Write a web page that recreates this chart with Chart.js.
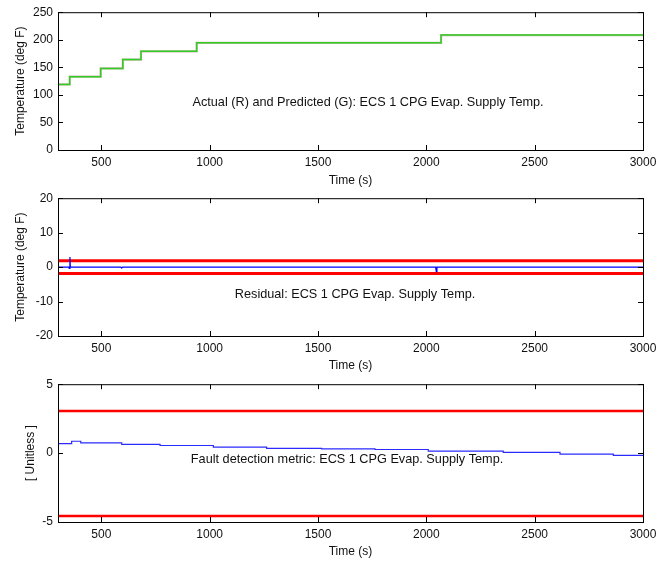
<!DOCTYPE html>
<html>
<head>
<meta charset="utf-8">
<script src="https://cdn.jsdelivr.net/npm/chart.js@4.4.0/dist/chart.umd.min.js"></script>
<style>
body { margin: 0; background: #fff; }
#wrap { position: relative; width: 667px; height: 563px; }
canvas { position: absolute; left: 0; }
</style>
</head>
<body>
<div id="wrap">
  <canvas id="g1" width="667" height="188" style="top:0px"></canvas>
  <canvas id="g2" width="667" height="187" style="top:186px"></canvas>
  <canvas id="g3" width="667" height="187" style="top:372px"></canvas>
</div>
<script>
// temperatura real y predicha (escalones)
const tiempoTemp = [300, 354, 497, 599, 683, 940, 2068, 3000];
const tempReal = [119, 133, 148, 164, 179, 194.5, 208.5, 208.5];
const tempPredicha = [119, 133, 148, 164, 179, 194.5, 208.5, 208.5];

// residual
const tiempoRes = [300, 350, 352, 355, 357, 590, 594, 598, 2043, 2046, 2049, 3000];
const residual = [0, 0, -0.4, 2.9, 0, 0, -0.3, 0, 0, -1.3, 0, 0];
const limitesRes = [1.85, -1.85];

// metrica de deteccion
const tiempoMetrica = [300, 363, 405, 594, 771, 1017, 1263, 1517, 1763, 2009, 2355, 2617, 2863, 3000];
const metrica = [0.69, 0.86, 0.74, 0.64, 0.55, 0.43, 0.34, 0.31, 0.26, 0.15, 0.05, -0.07, -0.16, -0.16];
const limitesMetrica = [3.05, -4.57];

const rangoX = [300, 3000];
const ticksX = [500, 1000, 1500, 2000, 2500, 3000];
const ticksTemp = [0, 50, 100, 150, 200, 250];
const ticksRes = [-20, -10, 0, 10, 20];
const ticksMetrica = [-5, 0, 5];

const fuente = '"Liberation Sans", Arial, sans-serif';

function puntos(xs, ys) {
    return xs.map((v, i) => ({ x: v, y: ys[i] }));
}

function linea(valor) {
    return [{ x: rangoX[0], y: valor }, { x: rangoX[1], y: valor }];
}

// caja, marcas hacia dentro y texto
const marco = {
    id: 'marco',
    afterDatasetsDraw(chart, args, opts) {
        const { ctx, chartArea: a, scales: { x, y } } = chart;
        ctx.save();
        ctx.strokeStyle = '#000';
        ctx.lineWidth = 1;
        ctx.strokeRect(a.left + 0.5, a.top + 0.5, a.right - a.left, a.bottom - a.top);
        ctx.beginPath();
        x.ticks.forEach(t => {
            let px = Math.round(x.getPixelForValue(t.value)) + 0.5;
            ctx.moveTo(px, a.bottom); ctx.lineTo(px, a.bottom - 5);
            ctx.moveTo(px, a.top); ctx.lineTo(px, a.top + 5);
        });
        y.ticks.forEach(t => {
            let py = Math.round(y.getPixelForValue(t.value)) + 0.5;
            ctx.moveTo(a.left, py); ctx.lineTo(a.left + 5, py);
            ctx.moveTo(a.right, py); ctx.lineTo(a.right - 5, py);
        });
        ctx.stroke();
        ctx.fillStyle = '#111';
        ctx.font = '12.7px ' + fuente;
        ctx.textAlign = 'center';
        ctx.textBaseline = 'middle';
        ctx.fillText(opts.texto, x.getPixelForValue(opts.x), y.getPixelForValue(opts.y));
        ctx.restore();
    }
};

function crearGrafica(id, datasets, yMin, yMax, yTicks, yTitulo, yPad, xAlto, nota) {
    return new Chart(document.getElementById(id), {
        type: 'line',
        data: { datasets: datasets },
        options: {
            responsive: false,
            animation: false,
            devicePixelRatio: 1,
            layout: { padding: { top: 10, right: 24, left: 0, bottom: 0 } },
            plugins: {
                legend: { display: false },
                tooltip: { enabled: false },
                marco: nota
            },
            scales: {
                x: {
                    type: 'linear',
                    min: rangoX[0],
                    max: rangoX[1],
                    grid: { display: false, drawTicks: false },
                    border: { display: false },
                    afterBuildTicks: s => { s.ticks = ticksX.map(v => ({ value: v })); },
                    afterFit: s => { s.height = xAlto; },
                    ticks: {
                        padding: 5, color: '#111', font: { family: fuente, size: 12 },
                        callback: v => String(v)
                    },
                    title: {
                        display: true, text: 'Time (s)', color: '#111',
                        font: { family: fuente, size: 12 }, padding: 0
                    }
                },
                y: {
                    min: yMin,
                    max: yMax,
                    grid: { display: false, drawTicks: false },
                    border: { display: false },
                    afterBuildTicks: s => { s.ticks = yTicks.map(v => ({ value: v })); },
                    afterFit: s => { s.width = 58; },
                    ticks: {
                        padding: 5, color: '#111', font: { family: fuente, size: 12 },
                        callback: v => String(v)
                    },
                    title: {
                        display: true, text: yTitulo, color: '#111',
                        font: { family: fuente, size: 12 }, padding: { top: yPad, bottom: 0 }
                    }
                }
            }
        },
        plugins: [marco]
    });
}

crearGrafica('g1', [{
    label: 'Predicted',
    data: puntos(tiempoTemp, tempPredicha),
    borderColor: '#33cc22', borderWidth: 1.5, pointRadius: 0, stepped: 'before', order: 0
}, {
    label: 'Actual',
    data: puntos(tiempoTemp, tempReal),
    borderColor: '#c8b8b0', borderWidth: 2.2, pointRadius: 0, stepped: 'before', order: 1
}], 0, 250, ticksTemp, 'Temperature (deg F)', 13, 38,
    { texto: 'Actual (R) and Predicted (G): ECS 1 CPG Evap. Supply Temp.', x: 1731, y: 87 });

crearGrafica('g2', [{
    data: puntos(tiempoRes, residual), borderColor: '#0000ff', borderWidth: 1.2, pointRadius: 0
}, {
    data: linea(limitesRes[0]), borderColor: '#ff0000', borderWidth: 3, pointRadius: 0
}, {
    data: linea(limitesRes[1]), borderColor: '#ff0000', borderWidth: 3, pointRadius: 0
}], -20, 20, ticksRes, 'Temperature (deg F)', 13, 37,
    { texto: 'Residual: ECS 1 CPG Evap. Supply Temp.', x: 1671, y: -8 });

crearGrafica('g3', [{
    data: puntos(tiempoMetrica, metrica), borderColor: '#2b2bff', borderWidth: 1.2, pointRadius: 0, stepped: 'before'
}, {
    data: linea(limitesMetrica[0]), borderColor: '#ff0000', borderWidth: 2.5, pointRadius: 0
}, {
    data: linea(limitesMetrica[1]), borderColor: '#ff0000', borderWidth: 2.5, pointRadius: 0
}], -5, 5, ticksMetrica, '[ Unitless ]', 23, 37,
    { texto: 'Fault detection metric: ECS 1 CPG Evap. Supply Temp.', x: 1634, y: -0.5 });
</script>
</body>
</html>
